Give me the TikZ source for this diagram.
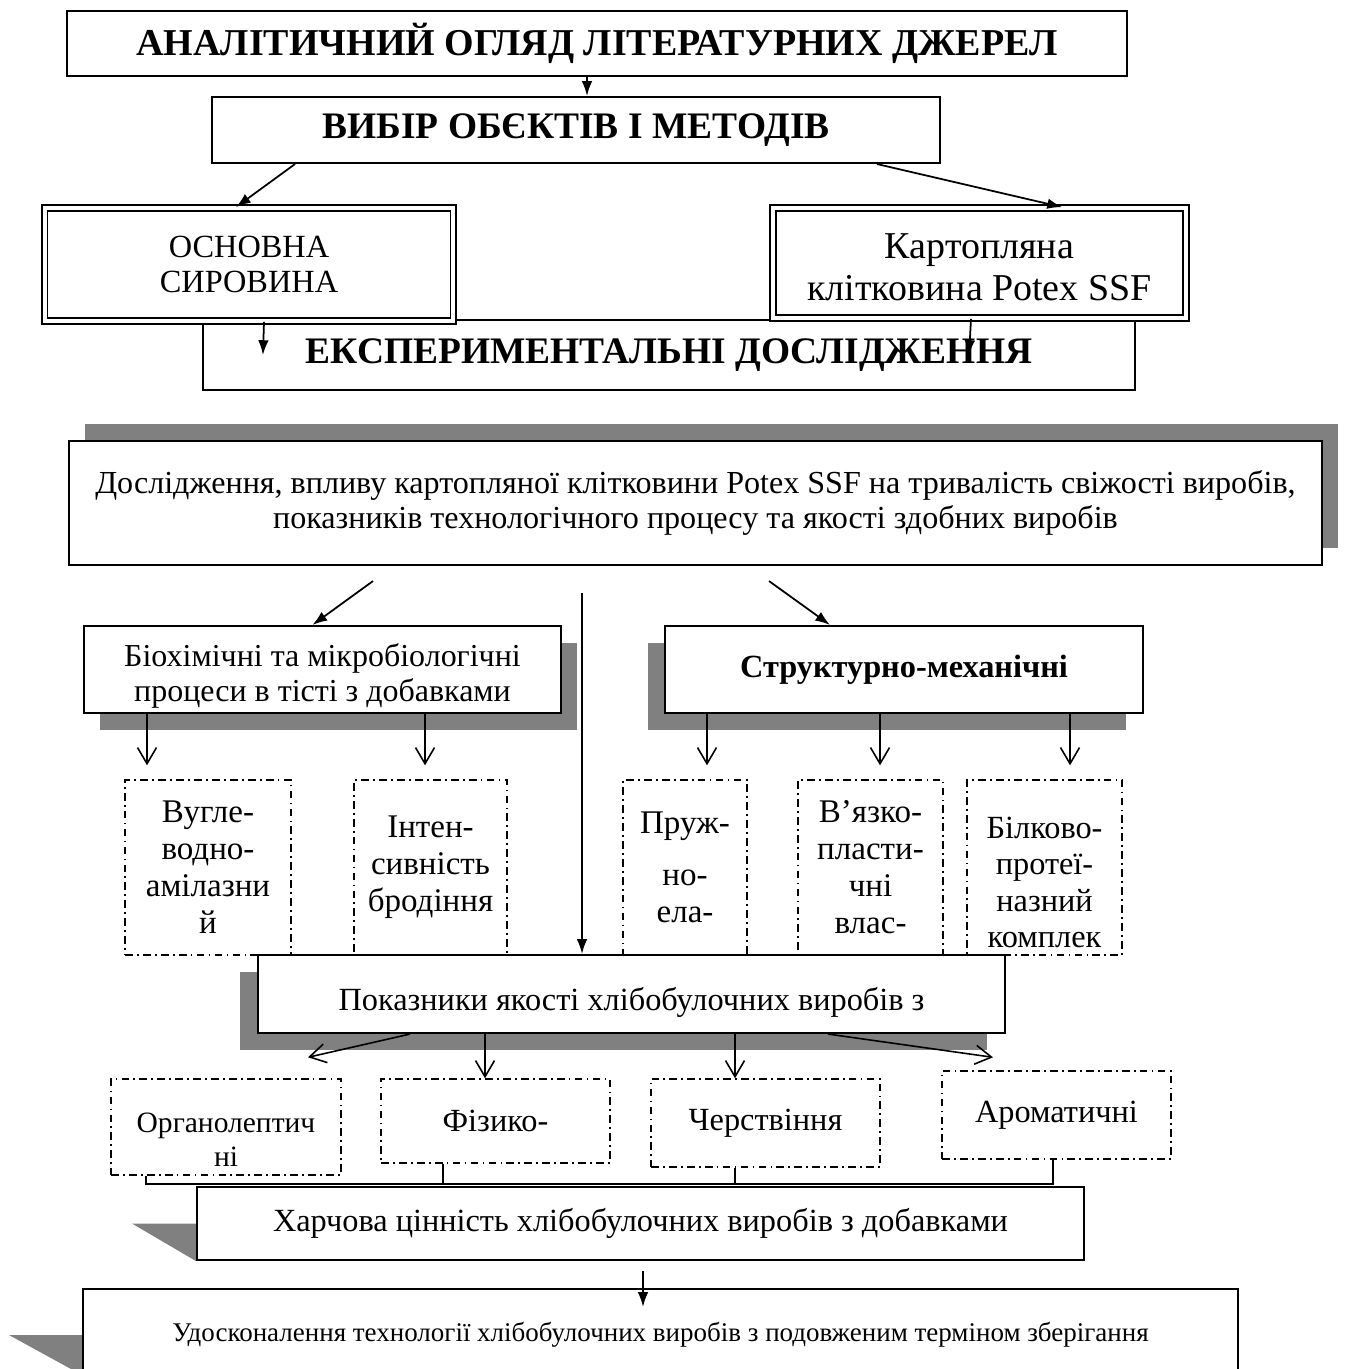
\documentclass[tikz,border=0pt]{standalone}
\usepackage{fontspec}
\setmainfont{Liberation Serif}
\usetikzlibrary{arrows.meta,shadows}
\tikzstyle{box}=[draw,rectangle,fill=white,line width=0.6pt,align=center,inner sep=0pt]
\tikzstyle{twin}=[box,double,double distance=1.1pt,line width=0.5pt]
\tikzstyle{cell}=[draw,rectangle,fill=white,line width=0.4pt,align=center,inner sep=0pt,
dash pattern=on 2.2pt off 1.2pt on 0.5pt off 1.2pt]
\tikzstyle{txt}=[align=center,inner sep=0pt]
\tikzstyle{arr}=[draw,line width=0.5pt,-{Latex[length=4.2pt,width=3pt]}]
\tikzstyle{arrO}=[draw,line width=0.45pt,-{Straight Barb[length=4.6pt,width=5.4pt]}]
\tikzstyle{tick}=[draw,line width=0.8pt]
\tikzset{shad/.style 2 args={drop shadow={shadow xshift=#1,shadow yshift=#2,fill=black!50,opacity=1}}}

\begin{document}
\begin{tikzpicture}
	\useasboundingbox (0,0) rectangle (13.44,-13.69);
	
	\node[box,minimum width=10.60cm,minimum height=0.65cm,font=\bfseries\fontsize{10.8}{12}\selectfont] (lit) at (5.97,-0.435) {АНАЛІТИЧНИЙ ОГЛЯД ЛІТЕРАТУРНИХ ДЖЕРЕЛ};
	\node[box,minimum width=7.28cm,minimum height=0.66cm,font=\bfseries\fontsize{10.65}{12}\selectfont] (vyb) at (5.76,-1.30) {ВИБІР ОБЄКТІВ І МЕТОДІВ};
	\node[box,minimum width=9.32cm,minimum height=0.70cm,font=\bfseries\fontsize{10.65}{12}\selectfont] (exp) at (6.69,-3.55) {ЕКСПЕРИМЕНТАЛЬНІ ДОСЛІДЖЕННЯ};
	\node[twin,minimum width=4.085cm,minimum height=1.13cm,font=\fontsize{9.2}{10.2}\selectfont] (syr) at (2.49,-2.645) {ОСНОВНА\\СИРОВИНА};
	\node[twin,minimum width=4.13cm,minimum height=1.10cm] (pot) at (9.795,-2.63) {};
	\node[txt,font=\fontsize{10.8}{11.9}\selectfont] (potT) at ([yshift=-0.04cm]pot) {Картопляна\\клітковина Potex SSF};
	
	\node[box,shad={0.16cm}{0.17cm},minimum width=12.53cm,minimum height=1.24cm,font=\fontsize{9.13}{9.9}\selectfont] (dos) at (6.955,-5.03) {Дослідження, впливу картопляної клітковини Potex SSF на тривалість свіжості виробів,\\показників технологічного процесу та якості здобних виробів};
	\node[box,shad={0.16cm}{-0.17cm},minimum width=4.77cm,minimum height=0.87cm] (bio) at (3.225,-6.695) {};
	\node[txt,font=\fontsize{9.1}{10.2}\selectfont] (bioT) at ([yshift=-0.065cm]bio) {Біохімічні та мікробіологічні\\процеси в тісті з добавками};
	\node[box,shad={-0.17cm}{-0.17cm},minimum width=4.78cm,minimum height=0.87cm,font=\bfseries\fontsize{9.2}{10.2}\selectfont] (str) at (9.04,-6.695) {Структурно-механічні};
	
	\node[cell,minimum width=1.66cm,minimum height=1.75cm,font=\fontsize{9.4}{10.5}\selectfont] (vug) at (2.08,-8.675) {Вугле-\\водно-\\амілазни\\й};
	\node[cell,minimum width=1.53cm,minimum height=1.75cm,font=\fontsize{9.4}{10.5}\selectfont] (int) at (4.305,-8.675) {Інтен-\\сивність\\бродіння};
	\node[cell,minimum width=1.24cm,minimum height=1.75cm,font=\fontsize{9.4}{10.5}\selectfont] (pru) at (6.85,-8.675) {Пруж-\\[4.2pt]но-\\ела-};
	\node[cell,minimum width=1.45cm,minimum height=1.75cm,font=\fontsize{9.4}{10.5}\selectfont] (vja) at (8.705,-8.675) {В’язко-\\пласти-\\чні\\влас-};
	\node[cell,minimum width=1.55cm,minimum height=1.75cm] (bil) at (10.445,-8.675) {};
	\node[txt,font=\fontsize{9.2}{10.4}\selectfont] (bilT) at ([yshift=-0.15cm]bil) {Білково-\\протеї-\\назний\\комплек};
	
	\node[box,shad={-0.18cm}{-0.17cm},minimum width=7.47cm,minimum height=0.78cm] (pok) at (6.315,-9.94) {};
	\node[txt,font=\fontsize{9.2}{10}\selectfont] (pokT) at ([yshift=-0.08cm]pok) {Показники якості хлібобулочних виробів з};
	
	\node[cell,minimum width=2.30cm,minimum height=0.96cm] (org) at (2.26,-11.27) {};
	\node[txt,font=\fontsize{8.4}{9.6}\selectfont] (orgT) at ([yshift=-0.13cm]org) {Органолептич\\ні};
	\node[cell,minimum width=2.29cm,minimum height=0.84cm,font=\fontsize{9.2}{9.6}\selectfont] (fiz) at (4.955,-11.21) {Фізико-};
	\node[cell,minimum width=2.29cm,minimum height=0.88cm,font=\fontsize{9.2}{9.6}\selectfont] (che) at (7.655,-11.23) {Черствіння};
	\node[cell,minimum width=2.29cm,minimum height=0.88cm,font=\fontsize{9.2}{9.6}\selectfont] (aro) at (10.565,-11.15) {Ароматичні};
	
	\node[box,minimum width=8.87cm,minimum height=0.73cm,font=\fontsize{9.2}{10}\selectfont] (har) at (6.405,-12.235) {Харчова цінність хлібобулочних виробів з добавками};
	\node[box,minimum width=11.55cm,minimum height=0.92cm,font=\fontsize{7.68}{9}\selectfont] (udo) at (6.605,-13.35) {Удосконалення технології хлібобулочних виробів з подовженим терміном зберігання};
	
	% shadow wedges
	\fill[black!50] ([xshift=-0.64cm]har.west) -- (har.west) -- (har.south west) -- cycle;
	\fill[black!50] ([xshift=-0.73cm]udo.west) -- (udo.west) -- ([yshift=-0.4cm]udo.west) -- cycle;
	
	\path[arr] ([xshift=-0.1cm]lit.south) -- ([xshift=-0.1cm]lit.south |- vyb.north);
	\path[arr] ([xshift=-2.81cm]vyb.south) -- ([xshift=-0.13cm]syr.north);
	\path[arr] ([xshift=3.01cm]vyb.south) -- ([xshift=0.825cm]pot.north);
	\path[arr] ([xshift=0.15cm]syr.south) -- ([xshift=0.61cm]exp.west);
	\path[arr] ([xshift=-0.085cm]pot.south) -- ([xshift=-1.67cm]exp.east);
	
	\path[arr] ([shift={(-3.225,-0.15)}]dos.south) -- ([xshift=-0.1cm]bio.north);
	\path[arr] ([shift={(0.735,-0.15)}]dos.south) -- ([xshift=-0.74cm]str.north);
	\path[arr] ([shift={(-1.135,-0.27)}]dos.south) -- ([xshift=-0.495cm]pok.north);
	
	\path[arrO,shorten >=0.14cm] ([xshift=-1.755cm]bio.south) -- ([xshift=-1.755cm]bio.south |- vug.north);
	\path[arrO,shorten >=0.14cm] ([xshift=1.025cm]bio.south) -- ([xshift=1.025cm]bio.south |- int.north);
	\path[arrO,shorten >=0.14cm] ([xshift=-1.97cm]str.south) -- ([xshift=-1.97cm]str.south |- pru.north);
	\path[arrO,shorten >=0.14cm] ([xshift=-0.24cm]str.south) -- ([xshift=-0.24cm]str.south |- vja.north);
	\path[arrO,shorten >=0.14cm] ([xshift=1.66cm]str.south) -- ([xshift=1.66cm]str.south |- bil.north);
	
	\path[arrO] ([xshift=-2.215cm]pok.south) -- ([shift={(0.82,0.21)}]org.north);
	\path[arrO] ([xshift=-1.465cm]pok.south) -- ([xshift=-1.465cm]pok.south |- fiz.north);
	\path[arrO] ([xshift=1.035cm]pok.south) -- ([xshift=1.035cm]pok.south |- che.north);
	\path[arrO] ([xshift=1.965cm]pok.south) -- ([shift={(-0.635,0.13)}]aro.north);
	
	\path[tick] ([xshift=-0.8cm]org.south) |- ([shift={(-0.035,0.02)}]aro.south |- har.north) -- ([xshift=-0.035cm]aro.south);
	\path[tick] ([xshift=-0.525cm]fiz.south) -- ([shift={(-0.525,0.02)}]fiz.south |- har.north);
	\path[tick] ([xshift=-0.305cm]che.south) -- ([shift={(-0.305,0.02)}]che.south |- har.north);
	
	\path[arr] ([shift={(0.025,-0.1)}]har.south) -- ([shift={(-0.175,-0.19)}]udo.north);
\end{tikzpicture}
\end{document}
